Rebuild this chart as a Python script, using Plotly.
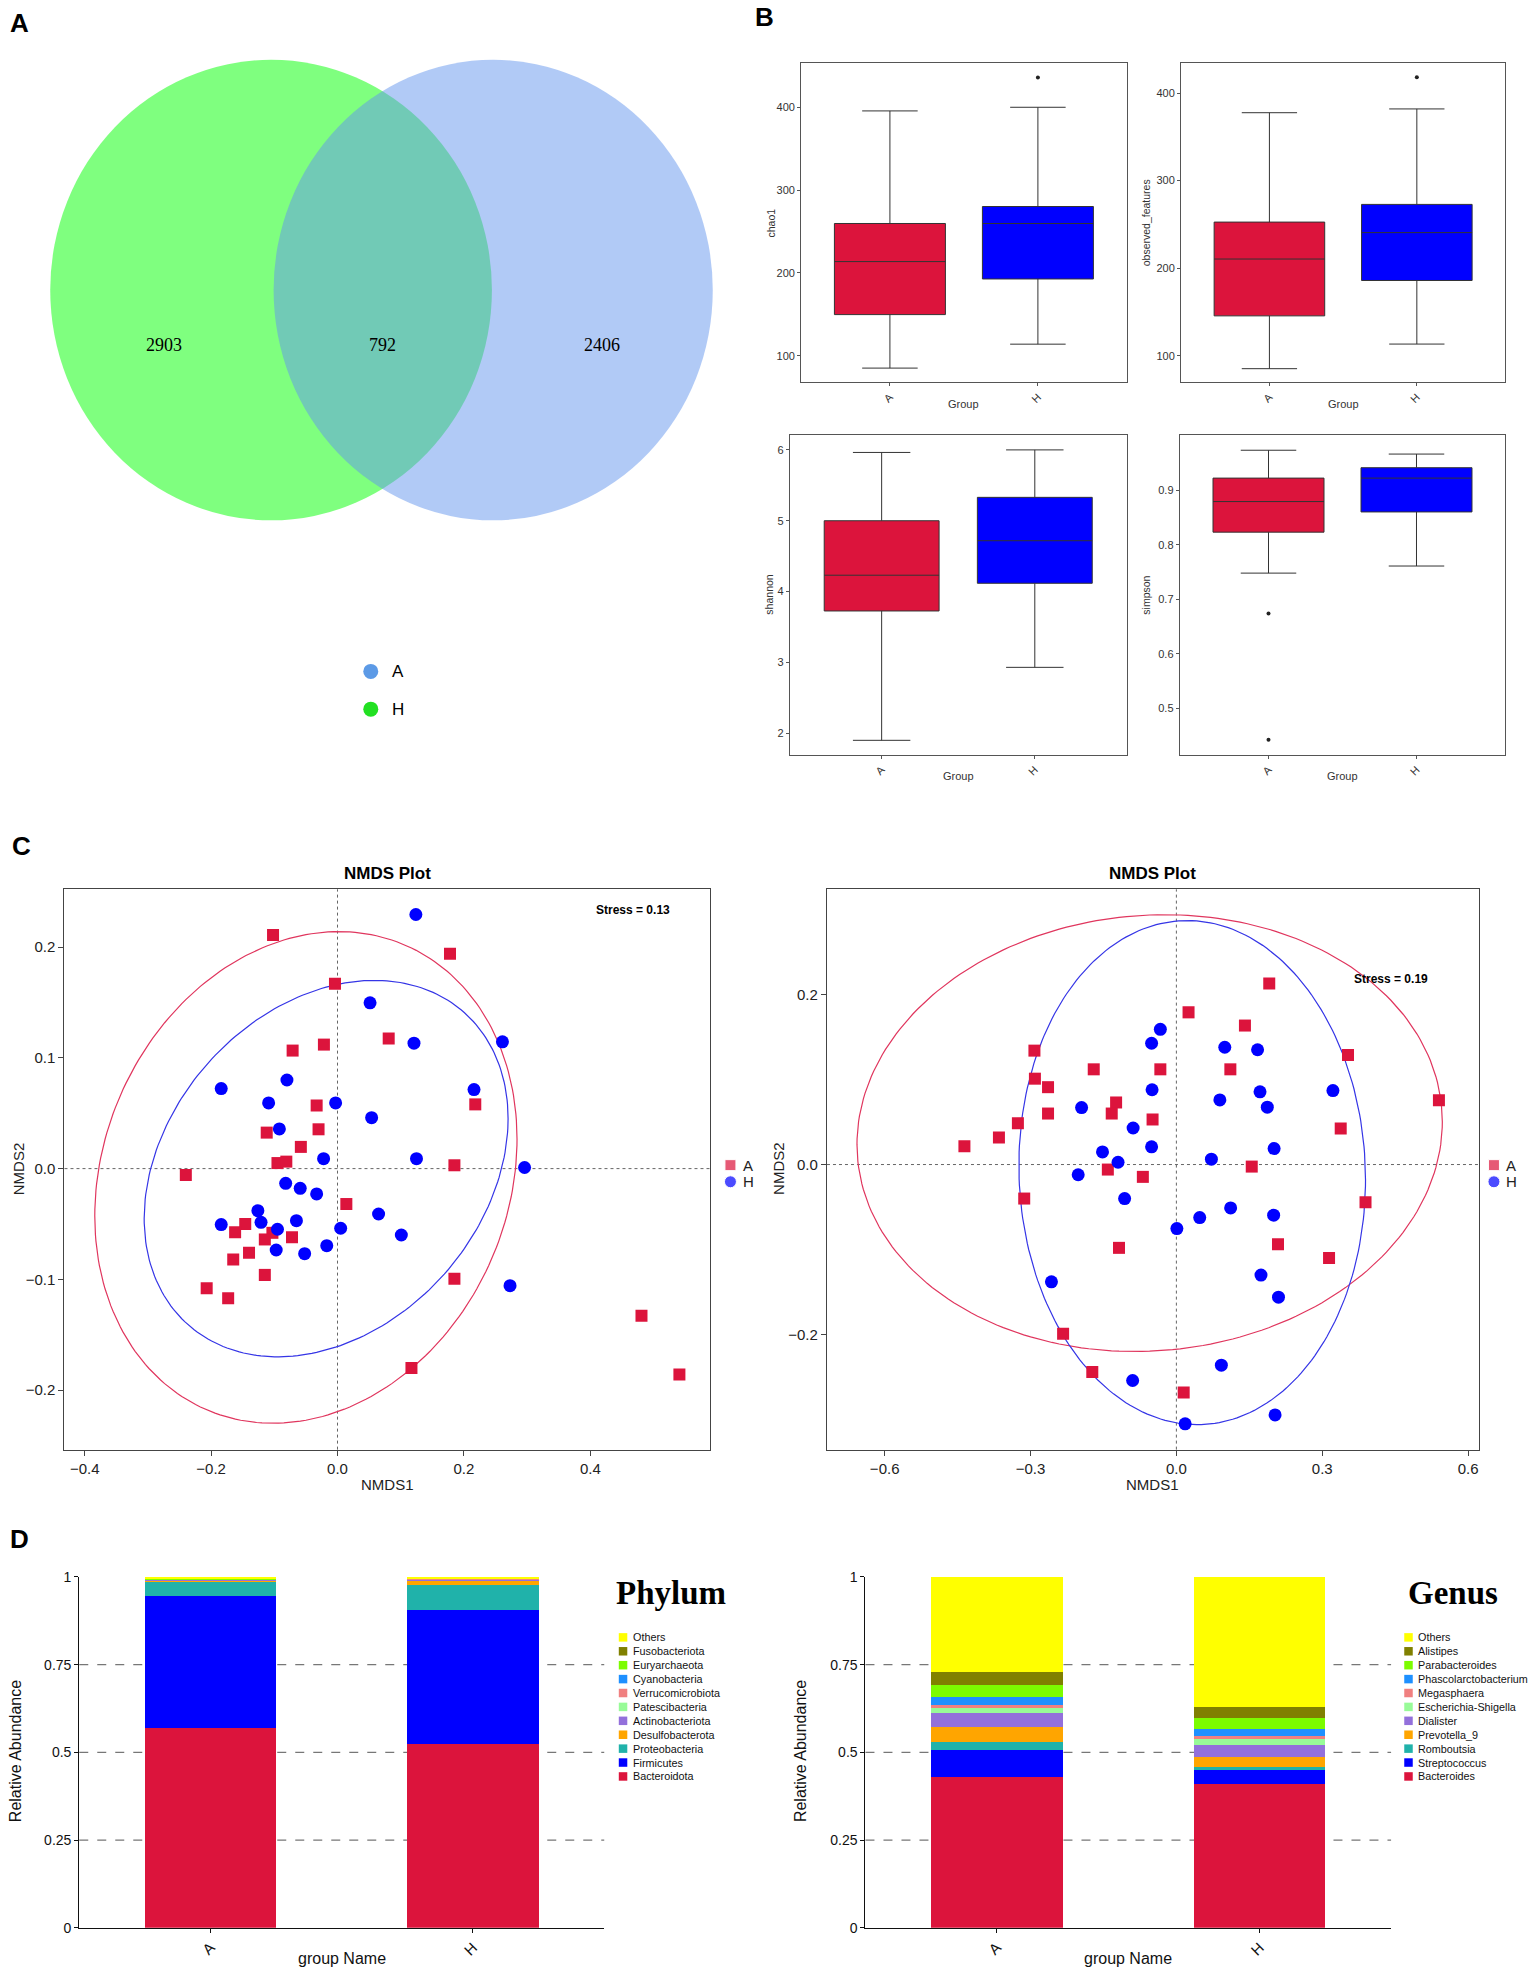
import numpy as np
import plotly.graph_objects as go

# ---------------- data ----------------
# Venn (left circle = H only, middle = shared, right circle = A only)
venn_labels = ["2903", "792", "2406"]
venn_legend = ["A", "H"]

groups = ["A", "H"]

# alpha diversity box statistics [A, H]
chao1_q1 = [149.7, 192.7]
chao1_med = [213.7, 259.7]
chao1_q3 = [259.7, 280.2]
chao1_lo = [85.1, 114.0]
chao1_hi = [395.6, 400.0]
chao1_out_g = ["H"]
chao1_out_v = [436.0]

obs_q1 = [145.5, 185.9]
obs_med = [210.4, 240.6]
obs_q3 = [252.6, 272.8]
obs_lo = [85.2, 113.3]
obs_hi = [377.5, 381.8]
obs_out_g = ["H"]
obs_out_v = [417.9]

shan_q1 = [3.726, 4.117]
shan_med = [4.231, 4.718]
shan_q3 = [5.0, 5.33]
shan_lo = [1.90, 2.93]
shan_hi = [5.964, 6.0]
shan_out_g = []
shan_out_v = []

simp_q1 = [0.823, 0.860]
simp_med = [0.879, 0.922]
simp_q3 = [0.922, 0.941]
simp_lo = [0.748, 0.761]
simp_hi = [0.973, 0.966]
simp_out_g = ["A", "A"]
simp_out_v = [0.674, 0.443]

# NMDS (left plot, stress 0.13)
nm1_A_x = [-0.071, -0.0215, 0.081, -0.033, 0.218, -0.112, -0.030, -0.058, -0.095, -0.081,
           -0.240, 0.185, 0.014, -0.146, -0.162, -0.103, -0.115, -0.072, -0.140, -0.165,
           -0.115, 0.185, -0.207, -0.173, 0.481, 0.541, 0.117, -0.102, 0.178, -0.004]
nm1_A_y = [0.1066, 0.112, 0.1175, 0.057, 0.058, 0.0325, 0.0355, 0.0196, 0.005, 0.0063,
           -0.0057, 0.003, -0.032, -0.050, -0.0575, -0.058, -0.064, -0.062, -0.076, -0.082,
           -0.096, -0.0994, -0.108, -0.117, -0.133, -0.186, -0.180, 0.211, 0.194, 0.167]
nm1_H_x = [0.0515, 0.121, 0.261, -0.184, -0.080, 0.216, -0.109, -0.003, 0.054, -0.092,
           -0.022, 0.125, 0.296, -0.082, -0.059, -0.033, -0.126, 0.065, -0.184, -0.121,
           -0.095, -0.065, 0.005, 0.101, -0.097, -0.052, -0.017, 0.273, 0.124]
nm1_H_y = [0.1497, 0.1133, 0.1145, 0.0723, 0.080, 0.0714, 0.0593, 0.0593, 0.046, 0.0358,
           0.009, 0.009, 0.001, -0.0133, -0.0178, -0.0229, -0.038, -0.041, -0.0506, -0.0485,
           -0.0548, -0.047, -0.0539, -0.060, -0.0735, -0.0768, -0.0696, -0.1057, 0.2295]

# NMDS (right plot, stress 0.19)
nm2_A_x = [0.025, 0.141, -0.292, 0.353, -0.170, -0.033, 0.111, -0.291, -0.264, -0.124,
           0.540, -0.133, -0.264, -0.049, -0.326, 0.338, -0.365, -0.436, 0.155, -0.141,
           -0.069, -0.313, 0.389, 0.209, -0.118, 0.314, -0.233, -0.173, 0.015, 0.191]
nm2_A_y = [0.179, 0.1635, 0.134, 0.129, 0.112, 0.112, 0.112, 0.101, 0.091, 0.073,
           0.0757, 0.060, 0.060, 0.053, 0.0486, 0.0424, 0.0318, 0.0216, -0.0024, -0.0059,
           -0.0145, -0.040, -0.0443, -0.0937, -0.098, -0.110, -0.199, -0.244, -0.268, 0.213]
nm2_H_x = [-0.033, -0.051, 0.0995, 0.167, -0.050, 0.172, 0.322, 0.0894, -0.195, 0.187,
           -0.089, -0.051, 0.201, -0.152, -0.120, 0.072, -0.202, -0.1065, 0.1116, 0.048,
           0.200, 0.001, -0.257, 0.174, 0.210, 0.0925, -0.090, 0.203, 0.018]
nm2_H_y = [0.159, 0.1427, 0.138, 0.135, 0.088, 0.0855, 0.087, 0.076, 0.067, 0.0675,
           0.043, 0.0208, 0.0188, 0.0149, 0.0027, 0.0063, -0.012, -0.040, -0.051, -0.0624,
           -0.0596, -0.0753, -0.138, -0.130, -0.156, -0.236, -0.254, -0.2945, -0.305]

# ellipse parameters: centre and covariance-like shape [xx, yy, xy]
ell1_A = [-0.050, -0.008, 0.1116, 0.0493, 0.0116]
ell1_H = [-0.018, 0.000, 0.0829, 0.0289, 0.0130]
ell2_A = [-0.055, 0.037, 0.3624, 0.0660, 0.0080]
ell2_H = [0.0325, -0.0095, 0.1271, 0.0879, -0.0030]

stress_1 = "Stress = 0.13"
stress_2 = "Stress = 0.19"

# relative abundance, listed from bottom of the stack to top
phylum_names = ["Bacteroidota", "Firmicutes", "Proteobacteria", "Desulfobacterota",
                "Actinobacteriota", "Patescibacteria", "Verrucomicrobiota", "Cyanobacteria",
                "Euryarchaeota", "Fusobacteriota", "Others"]
phylum_A = [0.570, 0.375, 0.043, 0.002, 0.002, 0.0005, 0.001, 0.0005, 0.0005, 0.002, 0.0035]
phylum_H = [0.523, 0.384, 0.071, 0.013, 0.002, 0.0005, 0.001, 0.0005, 0.0005, 0.001, 0.0035]

genus_names = ["Bacteroides", "Streptococcus", "Romboutsia", "Prevotella_9", "Dialister",
               "Escherichia-Shigella", "Megasphaera", "Phascolarctobacterium",
               "Parabacteroides", "Alistipes", "Others"]
genus_A = [0.429, 0.077, 0.025, 0.041, 0.040, 0.014, 0.010, 0.023, 0.032, 0.038, 0.271]
genus_H = [0.410, 0.040, 0.008, 0.029, 0.034, 0.017, 0.010, 0.019, 0.030, 0.031, 0.372]

taxa_colors = ["#DC143C", "#0000FF", "#20B2AA", "#FFA500", "#9370DB", "#98FB98",
               "#F08080", "#1E90FF", "#7CFC00", "#808000", "#FFFF00"]

abund_ticks = [0, 0.25, 0.5, 0.75, 1]
abund_grid = [0.25, 0.5, 0.75]

# ---------------- layout helpers ----------------
# positions were read on a 1220 x 1570 grid; small linear trims line them up with the page
GX0, GXS = 0.2, 0.997
GY0, GYS = 5.9, 0.9914


def fx(v):
    return (v - GX0) / GXS / 1220


def fy(v):
    return 1 - (v - GY0) / GYS / 1570


def gx(p):  # grid x at paper fraction p
    return p * 1220 * GXS + GX0


def gy(p):  # grid y at paper fraction p
    return (1 - p) * 1570 * GYS + GY0


SANS = "Liberation Sans, Arial, sans-serif"
NARROW = "Liberation Sans Narrow, Arial Narrow, Liberation Sans, sans-serif"
SERIF = "Liberation Serif, Times New Roman, serif"
RED = "#DC143C"
BLUE = "#0000FF"

fig = go.Figure()
shapes = []
annos = []


def text(x, y, s, size, family=SANS, bold=False, xanchor="center", angle=0, color="black"):
    annos.append(dict(x=fx(x), y=fy(y), xref="paper", yref="paper", text=f"<b>{s}</b>" if bold else s,
                      showarrow=False, xanchor=xanchor, yanchor="middle", textangle=angle,
                      font=dict(size=size, family=family, color=color)))


# transparent plot background: the full-page overlay axis must not hide the panels
lay = dict(width=1535, height=1975, margin=dict(l=0, r=0, t=0, b=0),
           paper_bgcolor="white", plot_bgcolor="rgba(0,0,0,0)", showlegend=False,
           barmode="stack", font=dict(family=SANS, color="black"))

# ---------------- A: Venn ----------------
lay["xaxis"] = dict(domain=[fx(10), fx(600)], range=[10, 600], visible=False)
lay["yaxis"] = dict(domain=[fy(600), fy(10)], range=[600, 10], visible=False)
shapes.append(dict(type="circle", xref="x", yref="y", x0=40, x1=390, y0=47, y1=413,
                   fillcolor="rgb(0,255,0)", opacity=0.5, line=dict(width=0), layer="below"))
shapes.append(dict(type="circle", xref="x", yref="y", x0=217, x1=565, y0=47, y1=413,
                   fillcolor="rgb(100,149,237)", opacity=0.5, line=dict(width=0), layer="below"))
for lab, xv in zip(venn_labels, [130, 303, 477]):
    annos.append(dict(x=xv, y=274, xref="x", yref="y", text=lab, showarrow=False,
                      font=dict(size=18, family=SERIF, color="black")))
fig.add_trace(go.Scatter(x=[294, 294], y=[533, 563], mode="markers", xaxis="x", yaxis="y",
                         marker=dict(size=15, color=["#5C9AE6", "#22E022"]), hoverinfo="skip"))
for lab, yv in zip(venn_legend, [533, 563]):
    text(309, yv, lab, 17, xanchor="left")

# ---------------- B: box plots ----------------
box_specs = [
    (2, "chao1", (635, 893), (49.5, 303.4), [67.8, 453.6], [100, 200, 300, 400],
     chao1_q1, chao1_med, chao1_q3, chao1_lo, chao1_hi, chao1_out_g, chao1_out_v, 611),
    (3, "observed_features", (936, 1193), (49.5, 303.4), [69.5, 434.4], [100, 200, 300, 400],
     obs_q1, obs_med, obs_q3, obs_lo, obs_hi, obs_out_g, obs_out_v, 908),
    (4, "shannon", (626, 893), (345.3, 599.4), [1.693, 6.208], [2, 3, 4, 5, 6],
     shan_q1, shan_med, shan_q3, shan_lo, shan_hi, shan_out_g, shan_out_v, 610),
    (5, "simpson", (935, 1193), (345.3, 599.4), [0.415, 1.0006], [0.5, 0.6, 0.7, 0.8, 0.9],
     simp_q1, simp_med, simp_q3, simp_lo, simp_hi, simp_out_g, simp_out_v, 908),
]
for n, name, xd, yd, yr, tv, q1, med, q3, lo, hi, og, ov, lab_x in box_specs:
    lay[f"xaxis{n}"] = dict(domain=[fx(xd[0]), fx(xd[1])], anchor=f"y{n}", type="category",
                            categoryorder="array", categoryarray=groups, range=[-0.6, 1.6],
                            showline=True, mirror=True, linecolor="#555", linewidth=1,
                            ticks="outside", ticklen=3, tickcolor="#555", tickangle=-45,
                            tickfont=dict(size=11, color="#333"), showgrid=False, zeroline=False)
    lay[f"yaxis{n}"] = dict(domain=[fy(yd[1]), fy(yd[0])], anchor=f"x{n}", range=yr,
                            tickvals=tv, showline=True, mirror=True, linecolor="#555",
                            linewidth=1, ticks="outside", ticklen=3, tickcolor="#555",
                            tickfont=dict(size=11, color="#333"), showgrid=False, zeroline=False)
    for i, (g, col) in enumerate(zip(groups, [RED, BLUE])):
        fig.add_trace(go.Box(x=[g], q1=[q1[i]], median=[med[i]], q3=[q3[i]],
                             lowerfence=[lo[i]], upperfence=[hi[i]], width=0.75,
                             fillcolor=col, line=dict(color="#333", width=1),
                             boxpoints=False, xaxis=f"x{n}", yaxis=f"y{n}", hoverinfo="skip"))
    if og:
        fig.add_trace(go.Scatter(x=og, y=ov, mode="markers", xaxis=f"x{n}", yaxis=f"y{n}",
                                 marker=dict(size=4, color="#222"), hoverinfo="skip"))
    text(lab_x, (yd[0] + yd[1]) / 2, name, 10.5, angle=-90, color="#333")
    text((xd[0] + xd[1]) / 2, yd[1] + 17, "Group", 11, color="#333")

# ---------------- C: NMDS ----------------
def ellipse_xy(p):
    cx, cy, sxx, syy, sxy = p
    L = np.linalg.cholesky(np.array([[sxx, sxy], [sxy, syy]]))
    t = np.linspace(0, 2 * np.pi, 241)
    pts = L @ np.vstack([np.cos(t), np.sin(t)])
    return cx + pts[0], cy + pts[1]


nmds_specs = [
    (6, (51.3, 562.6), [-0.432, 0.589], [-0.2538, 0.2523], [-0.4, -0.2, 0, 0.2, 0.4],
     [-0.2, -0.1, 0, 0.1, 0.2], nm1_A_x, nm1_A_y, nm1_H_x, nm1_H_y, ell1_A, ell1_H,
     stress_1, (533, 722.8), 15, 579),
    (7, (655.5, 1172), [-0.7187, 0.622], [-0.3353, 0.3238], [-0.6, -0.3, 0, 0.3, 0.6],
     [-0.2, 0, 0.2], nm2_A_x, nm2_A_y, nm2_H_x, nm2_H_y, ell2_A, ell2_H,
     stress_2, (1133, 777), 617, 1184),
]
for (n, xd, xr, yr, xt, yt, ax, ay, hx, hy, eA, eH, stress, spos, ylab_x, leg_x) in nmds_specs:
    yd = (706.1, 1151.3)
    lay[f"xaxis{n}"] = dict(domain=[fx(xd[0]), fx(xd[1])], anchor=f"y{n}", range=xr, tickvals=xt,
                            tickformat=".1f", showline=True, mirror=True, linecolor="#444",
                            linewidth=1.2, ticks="outside", ticklen=5, tickcolor="#444",
                            tickfont=dict(size=15, family=NARROW, color="#222"),
                            showgrid=False, zeroline=False)
    lay[f"yaxis{n}"] = dict(domain=[fy(yd[1]), fy(yd[0])], anchor=f"x{n}", range=yr, tickvals=yt,
                            tickformat=".1f", showline=True, mirror=True, linecolor="#444",
                            linewidth=1.2, ticks="outside", ticklen=5, tickcolor="#444",
                            tickfont=dict(size=15, family=NARROW, color="#222"),
                            showgrid=False, zeroline=False)
    shapes.append(dict(type="line", xref=f"x{n}", yref=f"y{n} domain", x0=0, x1=0, y0=0, y1=1,
                       line=dict(color="#666", width=1, dash="dot"), layer="below"))
    shapes.append(dict(type="line", xref=f"x{n} domain", yref=f"y{n}", x0=0, x1=1, y0=0, y1=0,
                       line=dict(color="#666", width=1, dash="dot"), layer="below"))
    for p, col in [(eA, "#E0365E"), (eH, "#3535E6")]:
        ex, ey = ellipse_xy(p)
        fig.add_trace(go.Scatter(x=ex, y=ey, mode="lines", line=dict(color=col, width=1.2),
                                 xaxis=f"x{n}", yaxis=f"y{n}", hoverinfo="skip"))
    fig.add_trace(go.Scatter(x=ax, y=ay, mode="markers", xaxis=f"x{n}", yaxis=f"y{n}",
                             marker=dict(symbol="square", size=12, color=RED), hoverinfo="skip"))
    fig.add_trace(go.Scatter(x=hx, y=hy, mode="markers", xaxis=f"x{n}", yaxis=f"y{n}",
                             marker=dict(symbol="circle", size=13, color=BLUE), hoverinfo="skip"))
    mid = (xd[0] + xd[1]) / 2
    text(mid, 693.7, "NMDS Plot", 17, bold=True)
    text(mid, 1179, "NMDS1", 15, family=NARROW, color="#222")
    text(ylab_x, 928, "NMDS2", 15, family=NARROW, color="#222", angle=-90)
    text(spos[0], spos[1], stress, 12, family=NARROW, bold=True, xanchor="right")
    fig.add_trace(go.Scatter(x=[leg_x, leg_x], y=[925.3, 938.5], mode="markers",
                             xaxis="x10", yaxis="y10", hoverinfo="skip",
                             marker=dict(symbol=["square", "circle"], size=[11, 12],
                                         color=[RED, BLUE])))
    for lab, yv in zip(groups, [925.3, 938.5]):
        text(leg_x + 8, yv, lab, 15, family=NARROW, xanchor="left", color="#222")

# ---------------- D: stacked bars ----------------
bar_specs = [
    (8, (63, 479), phylum_names, phylum_A, phylum_H, "Phylum", 487, 493.9, 12, 271),
    (9, (686, 1102.5), genus_names, genus_A, genus_H, "Genus", 1114, 1116.3, 634, 894),
]
for n, xd, names, va, vh, title, tx, lx, ylab_x, xlab_x in bar_specs:
    yd = (1252.5, 1531.3)
    lay[f"xaxis{n}"] = dict(domain=[fx(xd[0]), fx(xd[1])], anchor=f"y{n}", type="category",
                            categoryorder="array", categoryarray=groups, range=[-0.5, 1.5],
                            showline=True, linecolor="#111", linewidth=1.2, ticks="outside",
                            ticklen=4, tickcolor="#111", tickangle=-45,
                            tickfont=dict(size=15, color="#111"), showgrid=False, zeroline=False)
    lay[f"yaxis{n}"] = dict(domain=[fy(yd[1]), fy(yd[0])], anchor=f"x{n}", range=[0, 1],
                            tickvals=abund_ticks, ticktext=[f"{v:g}" for v in abund_ticks],
                            showline=True, linecolor="#111", linewidth=1.2, ticks="outside",
                            ticklen=4, tickcolor="#111", tickfont=dict(size=14, color="#111"),
                            showgrid=False, zeroline=False)
    for g in abund_grid:
        shapes.append(dict(type="line", xref=f"x{n} domain", yref=f"y{n}", x0=0, x1=1, y0=g, y1=g,
                           line=dict(color="#777", width=1.2, dash="dash"), layer="below"))
    for name, a, h, col in zip(names, va, vh, taxa_colors):
        fig.add_trace(go.Bar(x=groups, y=[a, h], name=name, width=0.5, marker_color=col,
                             marker_line_width=0, xaxis=f"x{n}", yaxis=f"y{n}", hoverinfo="skip"))
    text(tx, 1265, title, 33, family=SERIF, bold=True, xanchor="left")
    rows = [1300.5 + 11.05 * k for k in range(len(names))]
    fig.add_trace(go.Scatter(x=[lx] * len(names), y=rows, mode="markers", xaxis="x10",
                             yaxis="y10", hoverinfo="skip",
                             marker=dict(symbol="square", size=8.5, color=taxa_colors[::-1])))
    for name, yv in zip(names[::-1], rows):
        text(lx + 6.3, yv, name, 10.8, xanchor="left", color="#111")
    text(xlab_x, 1556, "group Name", 16, color="#111")
    text(ylab_x, 1391, "Relative Abundance", 16, color="#111", angle=-90)

# overlay axis for hand-placed legend keys (same grid as fx / fy)
lay["xaxis10"] = dict(domain=[0, 1], range=[gx(0), gx(1)], visible=False, anchor="y10")
lay["yaxis10"] = dict(domain=[0, 1], range=[gy(0), gy(1)], visible=False, anchor="x10")

# panel letters
for lab, xv, yv in [("A", 16, 18), ("B", 606, 13), ("C", 17, 672), ("D", 16, 1222)]:
    text(xv, yv, lab, 26, bold=True)

lay["shapes"] = shapes
lay["annotations"] = annos
fig.update_layout(**lay)
# no page margin or scrollbars, so the figure fills the window exactly
page_fix = ("document.documentElement.style.overflow='hidden';"
            "document.body.style.margin='0px';document.body.style.overflow='hidden';")
fig.write_html("out.html", post_script=page_fix, config={"displayModeBar": False})
